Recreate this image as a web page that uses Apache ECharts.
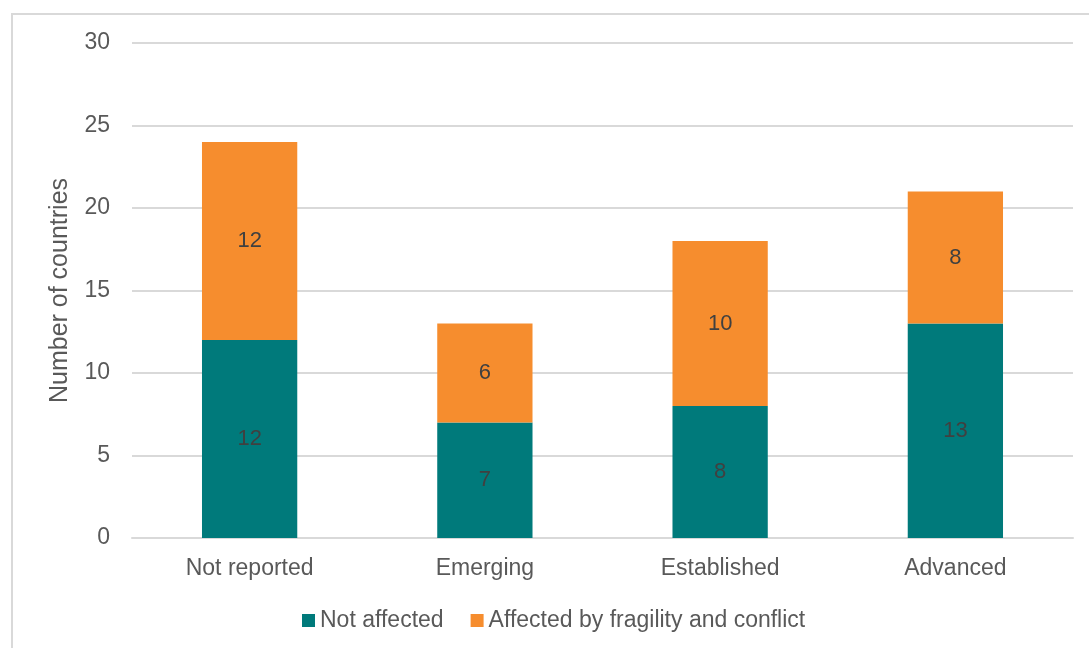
<!DOCTYPE html>
<html>
<head>
<meta charset="utf-8">
<script src="https://cdn.jsdelivr.net/npm/echarts@6/dist/echarts.min.js"></script>
<style>
    html, body { margin: 0; padding: 0; background: #fff; }
    #chart { width: 1089px; height: 648px; }
</style>
</head>
<body>
<div id="chart"></div>
<script>
    // categories and values
    const categories = ['Not reported', 'Emerging', 'Established', 'Advanced']
    const notAffected = [12, 7, 8, 13]
    const affected = [12, 6, 10, 8]
    const seriesNames = ['Not affected', 'Affected by fragility and conflict']

    const fontFamily = '"Liberation Sans", Arial, sans-serif'
    const labelStyle = {
        show: true,
        position: 'inside',
        color: '#404040',
        fontSize: 22,
        fontFamily: fontFamily
    }

    const chart = echarts.init(document.getElementById('chart'))
    const option = {
        animation: false,
        backgroundColor: '#fff',
        graphic: [{
            type: 'rect',
            shape: { x: 12, y: 14, width: 1200, height: 800 },
            style: { fill: 'none', stroke: '#d9d9d9', lineWidth: 2 },
            silent: true
        }],
        grid: {
            left: 132,
            right: 16,
            top: 43,
            bottom: 110
        },
        legend: {
            bottom: 11,
            left: 297,
            itemWidth: 13,
            itemHeight: 13,
            itemGap: 27,
            icon: 'rect',
            textStyle: {
                color: '#595959',
                fontSize: 23,
                fontFamily: fontFamily
            },
            data: seriesNames
        },
        xAxis: {
            type: 'category',
            data: categories,
            axisTick: { show: false },
            axisLine: { lineStyle: { color: '#d9d9d9', width: 2 } },
            axisLabel: {
                color: '#595959',
                fontSize: 23,
                fontFamily: fontFamily,
                margin: 19
            }
        },
        yAxis: {
            type: 'value',
            min: 0,
            max: 30,
            interval: 5,
            name: 'Number of countries',
            nameLocation: 'middle',
            nameGap: 59,
            nameTextStyle: {
                color: '#595959',
                fontSize: 25,
                fontFamily: fontFamily
            },
            axisLabel: {
                color: '#595959',
                fontSize: 23,
                fontFamily: fontFamily,
                margin: 22
            },
            splitLine: { lineStyle: { color: '#d9d9d9', width: 2 } }
        },
        series: [
            {
                name: seriesNames[0],
                type: 'bar',
                stack: 'total',
                barWidth: '40.5%',
                data: notAffected,
                itemStyle: { color: '#007A7B' },
                label: labelStyle
            },
            {
                name: seriesNames[1],
                type: 'bar',
                stack: 'total',
                barWidth: '40.5%',
                data: affected,
                itemStyle: { color: '#F68D2E' },
                label: labelStyle
            }
        ]
    }
    chart.setOption(option)
</script>
</body>
</html>
